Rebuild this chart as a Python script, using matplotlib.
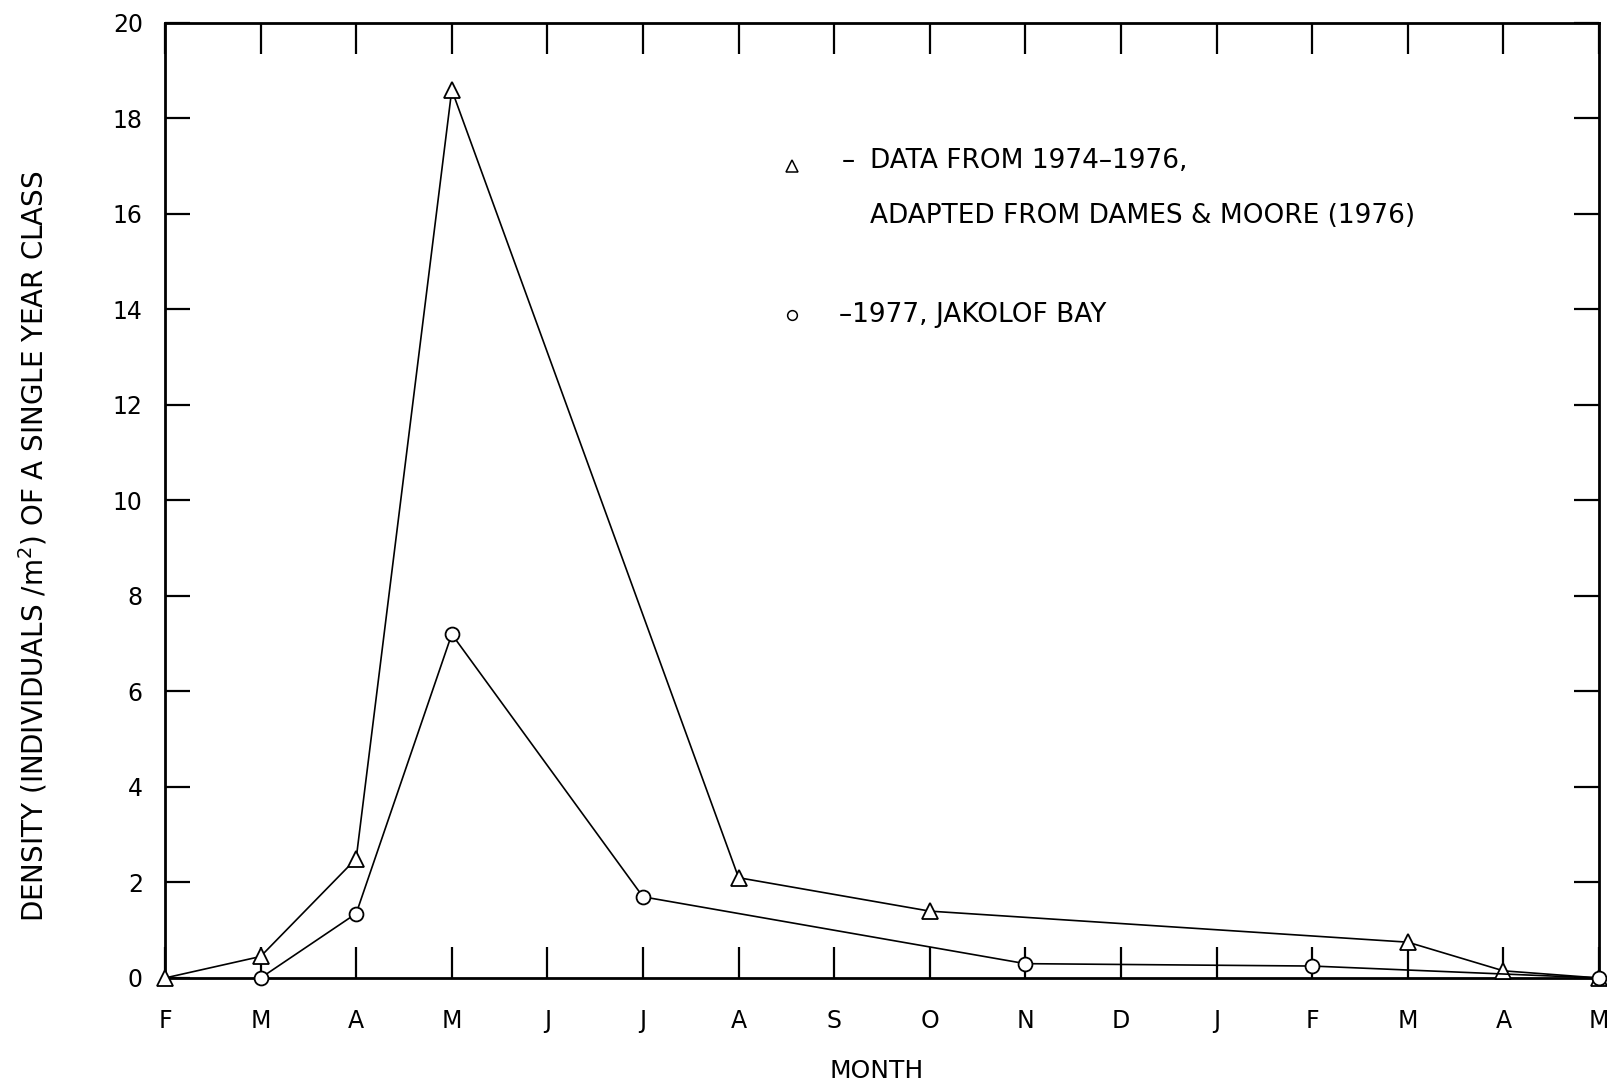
import matplotlib
matplotlib.use("Agg")
from matplotlib import pyplot as plt

months = ["F", "M", "A", "M", "J", "J", "A", "S", "O", "N", "D", "J", "F", "M", "A", "M"]
yticks = [0, 2, 4, 6, 8, 10, 12, 14, 16, 18, 20]

# 1974-1976 data (triangles), month index -> density
tri_x = [0, 1, 2, 3, 6, 8, 13, 14, 15]
tri_y = [0.0, 0.45, 2.5, 18.6, 2.1, 1.4, 0.75, 0.15, 0.0]

# 1977, Jakolof Bay (circles)
circ_x = [1, 2, 3, 5, 9, 12, 15]
circ_y = [0.0, 1.35, 7.2, 1.7, 0.3, 0.25, 0.0]

plt.rcParams['font.family'] = ['DejaVu Sans']
fig = plt.figure(figsize=(16.08, 10.84), dpi=100)
ax = fig.add_axes([0.1026, 0.0978, 0.8918, 0.881])

ax.plot(tri_x, tri_y, color='black', lw=1.2, marker='^', ms=11,
        mfc='white', mec='black', mew=1.3, clip_on=False, zorder=3)
ax.plot(circ_x, circ_y, color='black', lw=1.2, marker='o', ms=10,
        mfc='white', mec='black', mew=1.3, clip_on=False, zorder=3)

ax.set_xlim(0, 15)
ax.set_ylim(0, 20)
ax.set_xticks(range(len(months)))
ax.set_xticklabels(months)
ax.set_yticks(yticks)

for s in ax.spines.values():
    s.set_linewidth(2)

ax.tick_params(axis='x', direction='in', length=22, width=1.6, pad=22,
               labelsize=17, top=True)
ax.tick_params(axis='y', direction='in', length=18, width=1.6, pad=16,
               labelsize=17, right=True)

fig.text(0.0205, 0.496, "DENSITY (INDIVIDUALS /m$^2$) OF A SINGLE YEAR CLASS",
         rotation=90, ha='center', va='center', fontsize=20)
fig.text(0.545, 0.012, "MONTH", ha='center', va='center', fontsize=18)

# legend drawn as text
ax.plot([0.437], [0.850], marker='^', ms=9, mfc='white', mec='black',
        mew=1.1, transform=ax.transAxes, clip_on=False)
ax.text(0.472, 0.855, "–", transform=ax.transAxes,
        fontsize=19, va='center', ha='left')
ax.text(0.4916, 0.855, "DATA FROM 1974–1976,", transform=ax.transAxes,
        fontsize=19, va='center', ha='left')
ax.text(0.4916, 0.798, "ADAPTED FROM DAMES & MOORE (1976)", transform=ax.transAxes,
        fontsize=19, va='center', ha='left')
ax.plot([0.437], [0.694], marker='o', ms=7, mfc='white', mec='black',
        mew=1.1, transform=ax.transAxes, clip_on=False)
ax.text(0.470, 0.694, "–1977, JAKOLOF BAY", transform=ax.transAxes,
        fontsize=19, va='center', ha='left')

fig.savefig("out.png", dpi=100)
